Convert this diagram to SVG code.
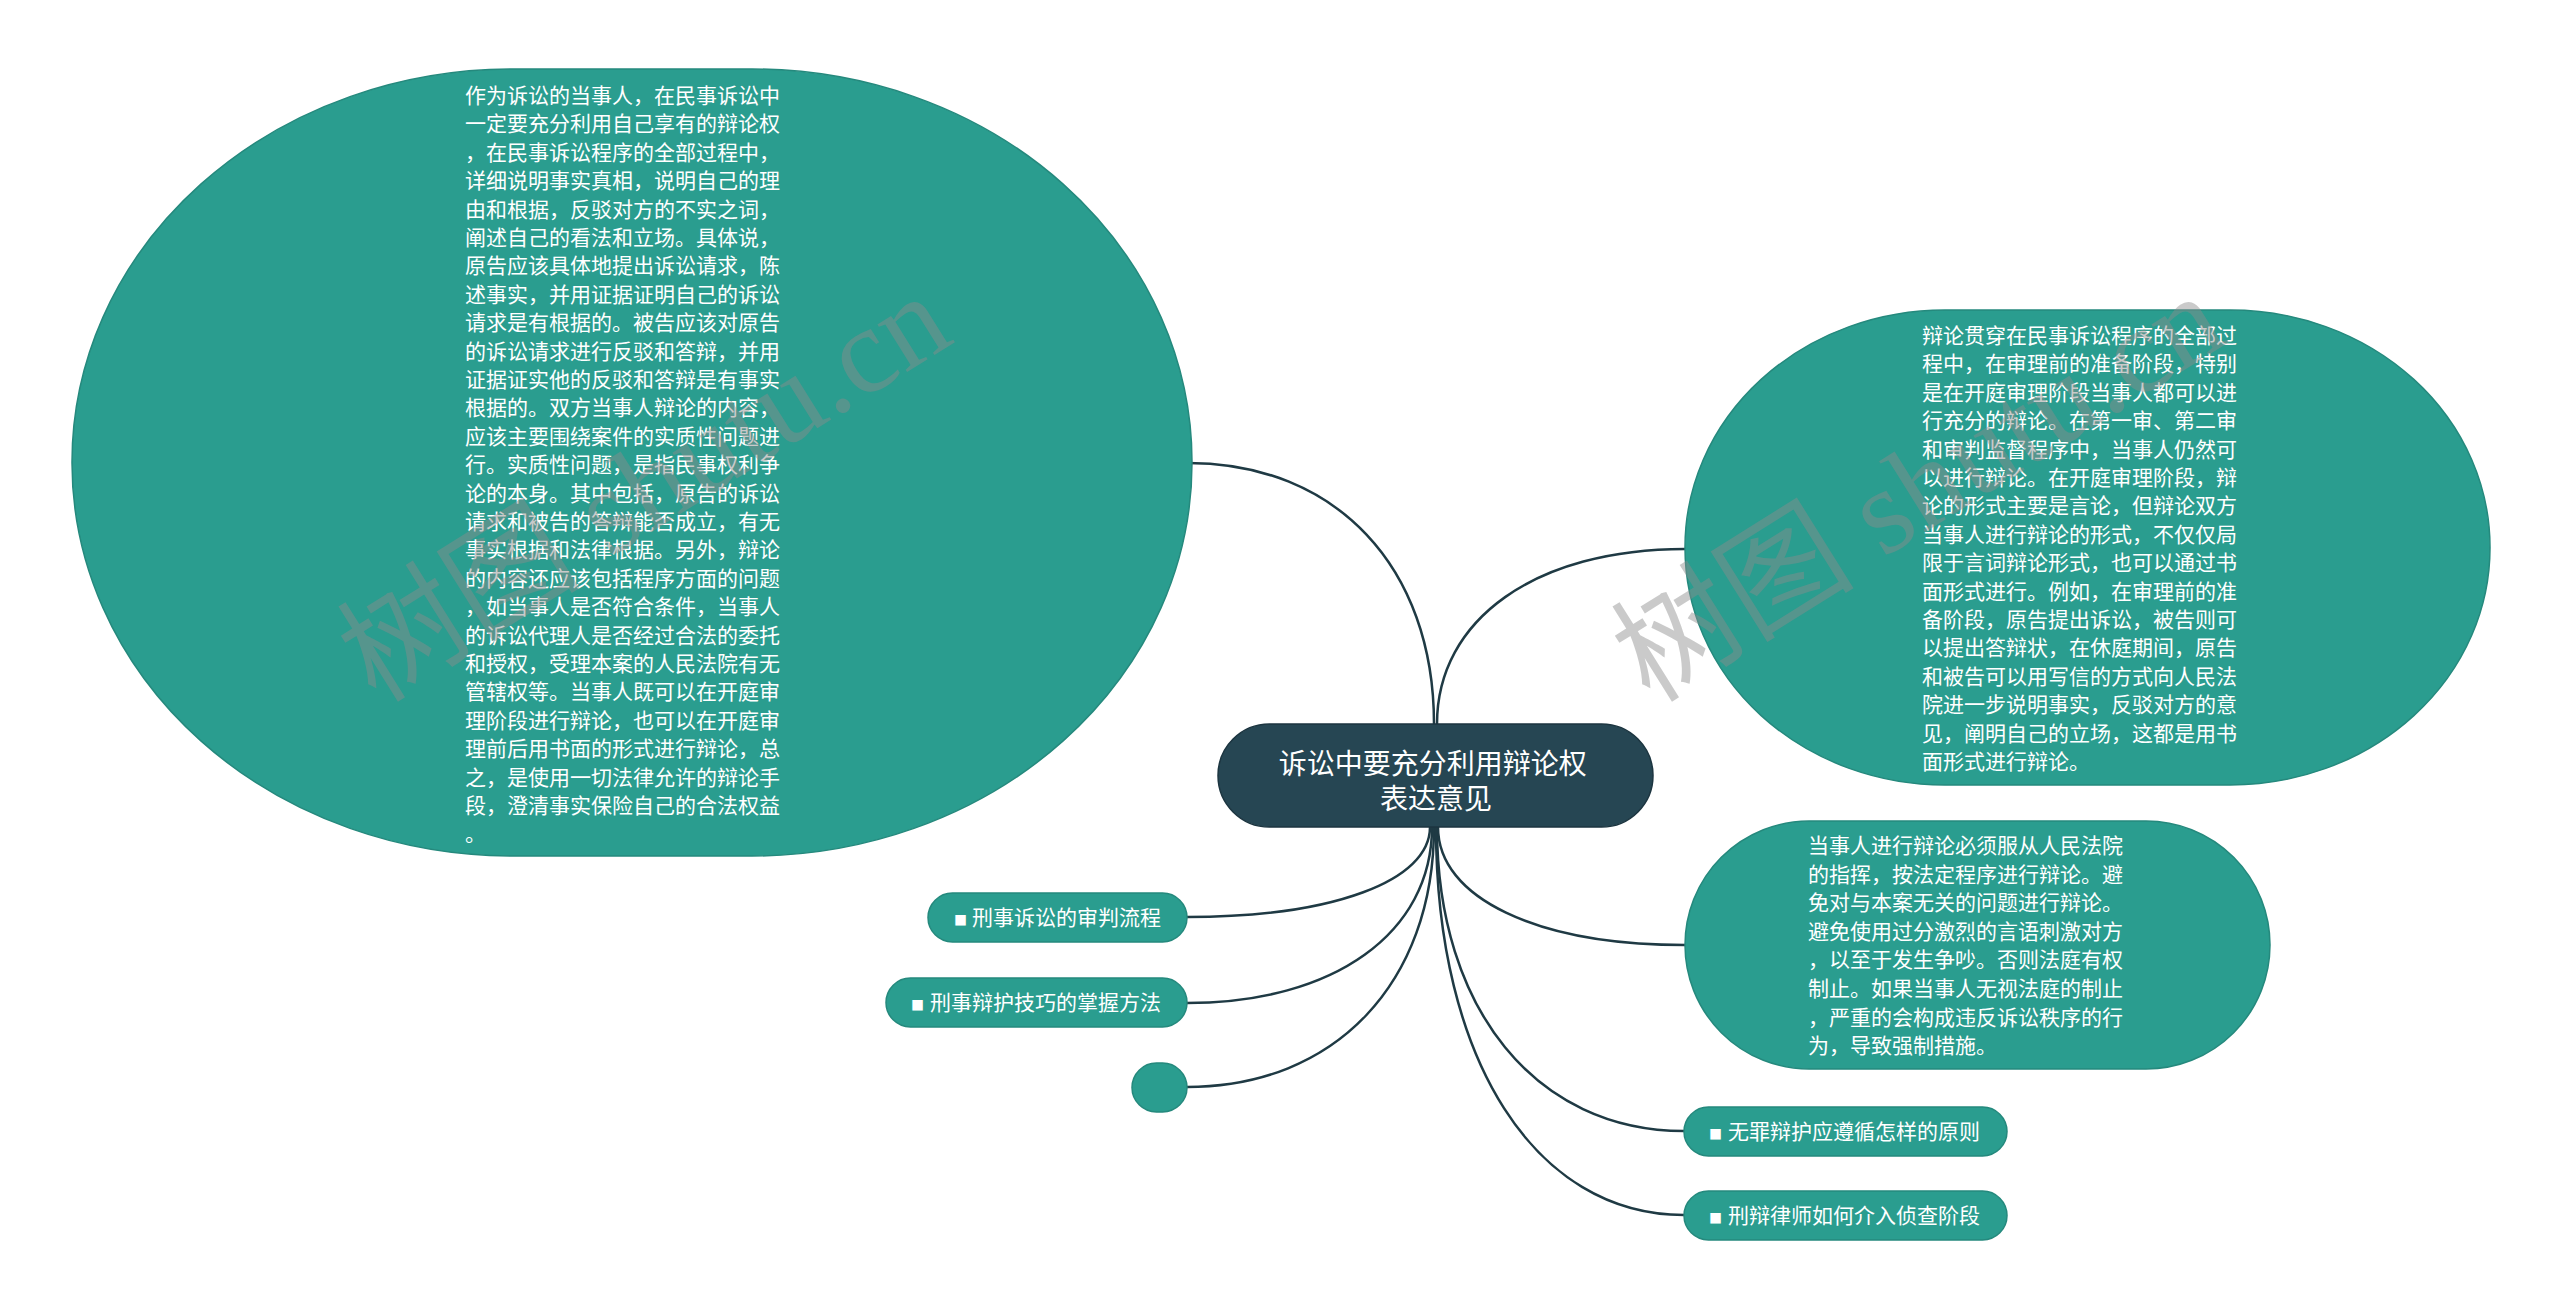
<svg xmlns="http://www.w3.org/2000/svg" width="2560" height="1311" viewBox="0 0 2560 1311">
<style>
.bg{fill:#ffffff}
.leaf{fill:#2a9d8f;stroke:#25897d;stroke-width:1.5}
.root{fill:#264653;stroke:#1c3540;stroke-width:1.5}
.t{font-family:"Noto Sans CJK SC","Noto Sans",sans-serif;fill:#ffffff}
.body{font-size:21px}
.pill{font-size:21px}
.sq{font-size:13px}
.rt{font-size:28px;text-anchor:middle}
.conn path{fill:none;stroke:#1f3a44;stroke-width:2.5}
.wm{font-family:"Liberation Serif","Noto Sans CJK SC",serif;font-size:122px;fill:#8c8c8c;opacity:0.45}
</style>
<rect class="bg" x="0" y="0" width="2560" height="1311"/>

<g id="connectors" class="conn">
<path d="M1434 724 C1434 567 1336 463 1188 463"/>
<path d="M1437 724 C1437 619 1536 549 1685 549"/>
<path d="M1430 827 C1430 881 1333 917 1187 917"/>
<path d="M1432 827 C1432 933 1334 1003 1187 1003"/>
<path d="M1434 827 C1434 983 1335 1087 1187 1087"/>
<path d="M1438 827 C1438 898 1537 945 1685 945"/>
<path d="M1437 827 C1437 1009 1536 1131 1684 1131"/>
<path d="M1436 827 C1436 1060 1535 1215 1684 1215"/>
</g>

<g id="node-left-big">
<rect class="leaf" x="72" y="69" width="1120" height="787" rx="440" ry="393"/>
<text class="t body">
<tspan x="465" y="103">作为诉讼的当事人，在民事诉讼中</tspan>
<tspan x="465" y="131.4">一定要充分利用自己享有的辩论权</tspan>
<tspan x="465" y="159.8">，在民事诉讼程序的全部过程中，</tspan>
<tspan x="465" y="188.2">详细说明事实真相，说明自己的理</tspan>
<tspan x="465" y="216.6">由和根据，反驳对方的不实之词，</tspan>
<tspan x="465" y="245">阐述自己的看法和立场。具体说，</tspan>
<tspan x="465" y="273.4">原告应该具体地提出诉讼请求，陈</tspan>
<tspan x="465" y="301.8">述事实，并用证据证明自己的诉讼</tspan>
<tspan x="465" y="330.2">请求是有根据的。被告应该对原告</tspan>
<tspan x="465" y="358.6">的诉讼请求进行反驳和答辩，并用</tspan>
<tspan x="465" y="387">证据证实他的反驳和答辩是有事实</tspan>
<tspan x="465" y="415.4">根据的。双方当事人辩论的内容，</tspan>
<tspan x="465" y="443.8">应该主要围绕案件的实质性问题进</tspan>
<tspan x="465" y="472.2">行。实质性问题，是指民事权利争</tspan>
<tspan x="465" y="500.6">论的本身。其中包括，原告的诉讼</tspan>
<tspan x="465" y="529">请求和被告的答辩能否成立，有无</tspan>
<tspan x="465" y="557.4">事实根据和法律根据。另外，辩论</tspan>
<tspan x="465" y="585.8">的内容还应该包括程序方面的问题</tspan>
<tspan x="465" y="614.2">，如当事人是否符合条件，当事人</tspan>
<tspan x="465" y="642.6">的诉讼代理人是否经过合法的委托</tspan>
<tspan x="465" y="671">和授权，受理本案的人民法院有无</tspan>
<tspan x="465" y="699.4">管辖权等。当事人既可以在开庭审</tspan>
<tspan x="465" y="727.8">理阶段进行辩论，也可以在开庭审</tspan>
<tspan x="465" y="756.2">理前后用书面的形式进行辩论，总</tspan>
<tspan x="465" y="784.6">之，是使用一切法律允许的辩论手</tspan>
<tspan x="465" y="813">段，澄清事实保险自己的合法权益</tspan>
<tspan x="465" y="841.4">。</tspan>
</text>
</g>

<g id="node-right-top">
<rect class="leaf" x="1685" y="310" width="805" height="475" rx="260" ry="237"/>
<text class="t body">
<tspan x="1922" y="343">辩论贯穿在民事诉讼程序的全部过</tspan>
<tspan x="1922" y="371.4">程中，在审理前的准备阶段，特别</tspan>
<tspan x="1922" y="399.8">是在开庭审理阶段当事人都可以进</tspan>
<tspan x="1922" y="428.2">行充分的辩论。在第一审、第二审</tspan>
<tspan x="1922" y="456.6">和审判监督程序中，当事人仍然可</tspan>
<tspan x="1922" y="485">以进行辩论。在开庭审理阶段，辩</tspan>
<tspan x="1922" y="513.4">论的形式主要是言论，但辩论双方</tspan>
<tspan x="1922" y="541.8">当事人进行辩论的形式，不仅仅局</tspan>
<tspan x="1922" y="570.2">限于言词辩论形式，也可以通过书</tspan>
<tspan x="1922" y="598.6">面形式进行。例如，在审理前的准</tspan>
<tspan x="1922" y="627">备阶段，原告提出诉讼，被告则可</tspan>
<tspan x="1922" y="655.4">以提出答辩状，在休庭期间，原告</tspan>
<tspan x="1922" y="683.8">和被告可以用写信的方式向人民法</tspan>
<tspan x="1922" y="712.2">院进一步说明事实，反驳对方的意</tspan>
<tspan x="1922" y="740.6">见，阐明自己的立场，这都是用书</tspan>
<tspan x="1922" y="769">面形式进行辩论。</tspan>
</text>
</g>

<g id="node-right-mid">
<rect class="leaf" x="1685" y="821" width="585" height="248" rx="124" ry="124"/>
<text class="t body">
<tspan x="1808" y="853">当事人进行辩论必须服从人民法院</tspan>
<tspan x="1808" y="881.6">的指挥，按法定程序进行辩论。避</tspan>
<tspan x="1808" y="910.2">免对与本案无关的问题进行辩论。</tspan>
<tspan x="1808" y="938.8">避免使用过分激烈的言语刺激对方</tspan>
<tspan x="1808" y="967.4">，以至于发生争吵。否则法庭有权</tspan>
<tspan x="1808" y="996">制止。如果当事人无视法庭的制止</tspan>
<tspan x="1808" y="1024.6">，严重的会构成违反诉讼秩序的行</tspan>
<tspan x="1808" y="1053.2">为，导致强制措施。</tspan>
</text>
</g>

<g id="node-root">
<rect class="root" x="1218" y="724" width="435" height="103" rx="51.5" ry="51.5"/>
<text class="t rt">
<tspan x="1436" y="774">诉讼中要充分利用辩论权</tspan>
<tspan x="1436" y="809">表达意见</tspan>
</text>
</g>

<g id="node-xingshi-susong">
<rect class="leaf" x="928" y="893" width="259" height="49" rx="24.5" ry="24.5"/>
<text class="t pill" y="925"><tspan class="sq" x="954">■</tspan><tspan x="972">刑事诉讼的审判流程</tspan></text>
</g>

<g id="node-xingshi-bianhu">
<rect class="leaf" x="886" y="978" width="301" height="49" rx="24.5" ry="24.5"/>
<text class="t pill" y="1010"><tspan class="sq" x="911">■</tspan><tspan x="930">刑事辩护技巧的掌握方法</tspan></text>
</g>

<g id="node-empty">
<rect class="leaf" x="1132" y="1063" width="55" height="49" rx="24.5" ry="24.5"/>
</g>

<g id="node-wuzui">
<rect class="leaf" x="1684" y="1107" width="323" height="49" rx="24.5" ry="24.5"/>
<text class="t pill" y="1139"><tspan class="sq" x="1709">■</tspan><tspan x="1728">无罪辩护应遵循怎样的原则</tspan></text>
</g>

<g id="node-xingbian">
<rect class="leaf" x="1684" y="1191" width="323" height="49" rx="24.5" ry="24.5"/>
<text class="t pill" y="1223"><tspan class="sq" x="1709">■</tspan><tspan x="1728">刑辩律师如何介入侦查阶段</tspan></text>
</g>

<g id="watermark">
<text class="wm" x="376" y="704" transform="rotate(-32 376 704)">树图 shutu.cn</text>
<text class="wm" x="1650" y="704" transform="rotate(-32 1650 704)">树图 shutu.cn</text>
</g>
</svg>
